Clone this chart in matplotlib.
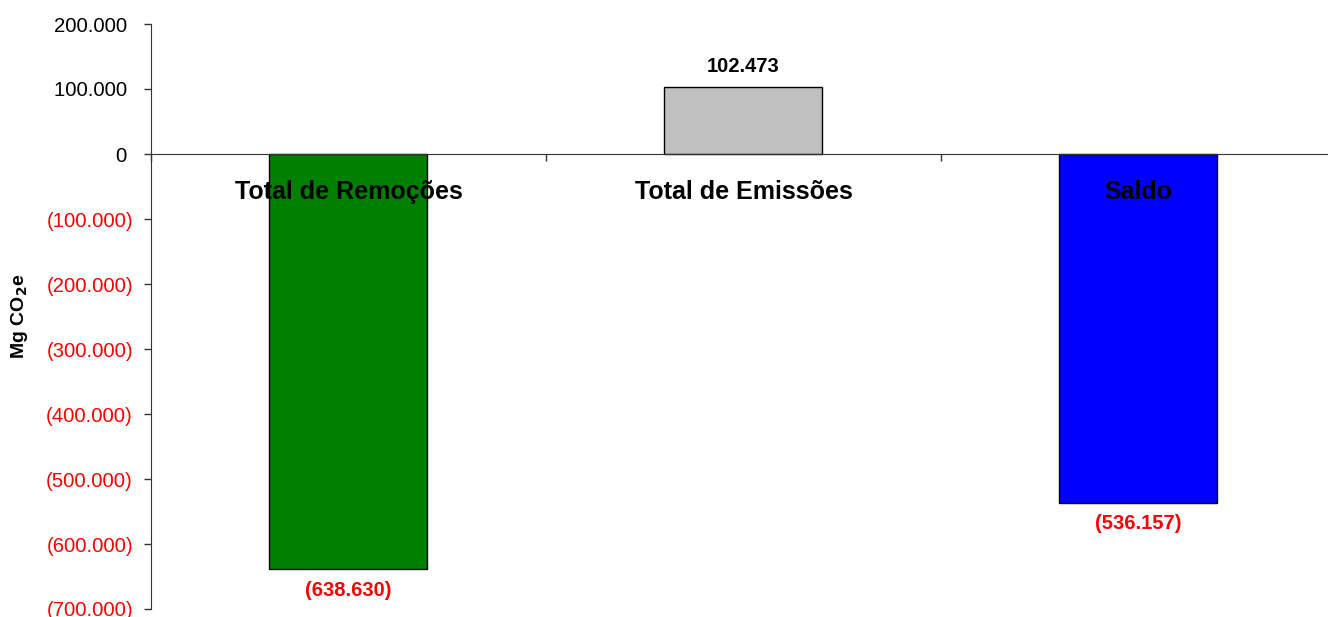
import numpy as np
import matplotlib.pyplot as plt
import matplotlib.transforms as mtransforms
from matplotlib.ticker import FuncFormatter, FixedLocator

plt.rcParams['font.family'] = ['Liberation Sans', 'DejaVu Sans']

# dados do balanço de carbono (Mg CO2e)
categorias = ['Total de Remoções', 'Total de Emissões', 'Saldo']
valores = [-638630, 102473, -536157]
cores = ['#008000', '#C0C0C0', '#0000FF']
yticks = [200000, 100000, 0, -100000, -200000, -300000, -400000,
          -500000, -600000, -700000]


def fmt_milhar(v, eixo=False):
    # separador de milhar com ponto, negativos entre parênteses
    s = f'{abs(v):,.0f}'.replace(',', '.')
    if v < 0:
        return f'({s})'
    # no eixo os positivos ficam alinhados com o número, não com o parêntese
    return s + ' ' if eixo else s


fig = plt.figure(figsize=(13.28, 6.17), dpi=100)
ax = fig.add_axes([151 / 1328, 8 / 617, 1 - 151 / 1328, (609 - 24) / 617])

x = np.arange(len(categorias))
ax.bar(x, valores, width=0.4, color=cores, edgecolor='black', linewidth=1, zorder=2)

ax.set_xlim(-0.5, 2.48)
ax.set_ylim(-700000, 200000)

# eixos: só o vertical e a linha do zero
for lado in ['top', 'right']:
    ax.spines[lado].set_visible(False)
ax.spines['bottom'].set_position(('data', 0))
ax.spines['bottom'].set_color('#333333')
ax.spines['left'].set_color('#333333')

ax.yaxis.set_major_locator(FixedLocator(yticks))
ax.yaxis.set_major_formatter(FuncFormatter(lambda v, p: fmt_milhar(v, eixo=True)))
ax.tick_params(axis='y', direction='out', length=5, width=1, pad=8,
               labelsize=14.6, color='#333333')
for lbl, v in zip(ax.get_yticklabels(), yticks):
    lbl.set_color('red' if v < 0 else 'black')

ax.set_xticks([-0.5, 0.5, 1.5])
ax.set_xticklabels([])
ax.tick_params(axis='x', direction='out', length=5, width=1, color='#333333')

# nomes das categorias logo abaixo da linha do zero
trans = mtransforms.offset_copy(ax.transData, fig=fig, x=0, y=-38, units='dots')
for xi, nome in zip(x, categorias):
    ax.text(xi, 0, nome, transform=trans, ha='center', va='center',
            fontsize=18, fontweight='bold', color='black', zorder=5)

# rótulos de valor
for xi, v in zip(x, valores):
    dy = 21 if v > 0 else -21
    t = mtransforms.offset_copy(ax.transData, fig=fig, x=0, y=dy, units='dots')
    ax.text(xi, v, fmt_milhar(v), transform=t, ha='center', va='center',
            fontsize=14.5, fontweight='bold', color='black' if v > 0 else 'red')

fig.text(20 / 1328, 1 - 316 / 617, 'Mg CO$_\\mathbf{2}$e', rotation=90,
         ha='center', va='center', fontsize=14, fontweight='bold')

fig.savefig('out.png', dpi=100)
